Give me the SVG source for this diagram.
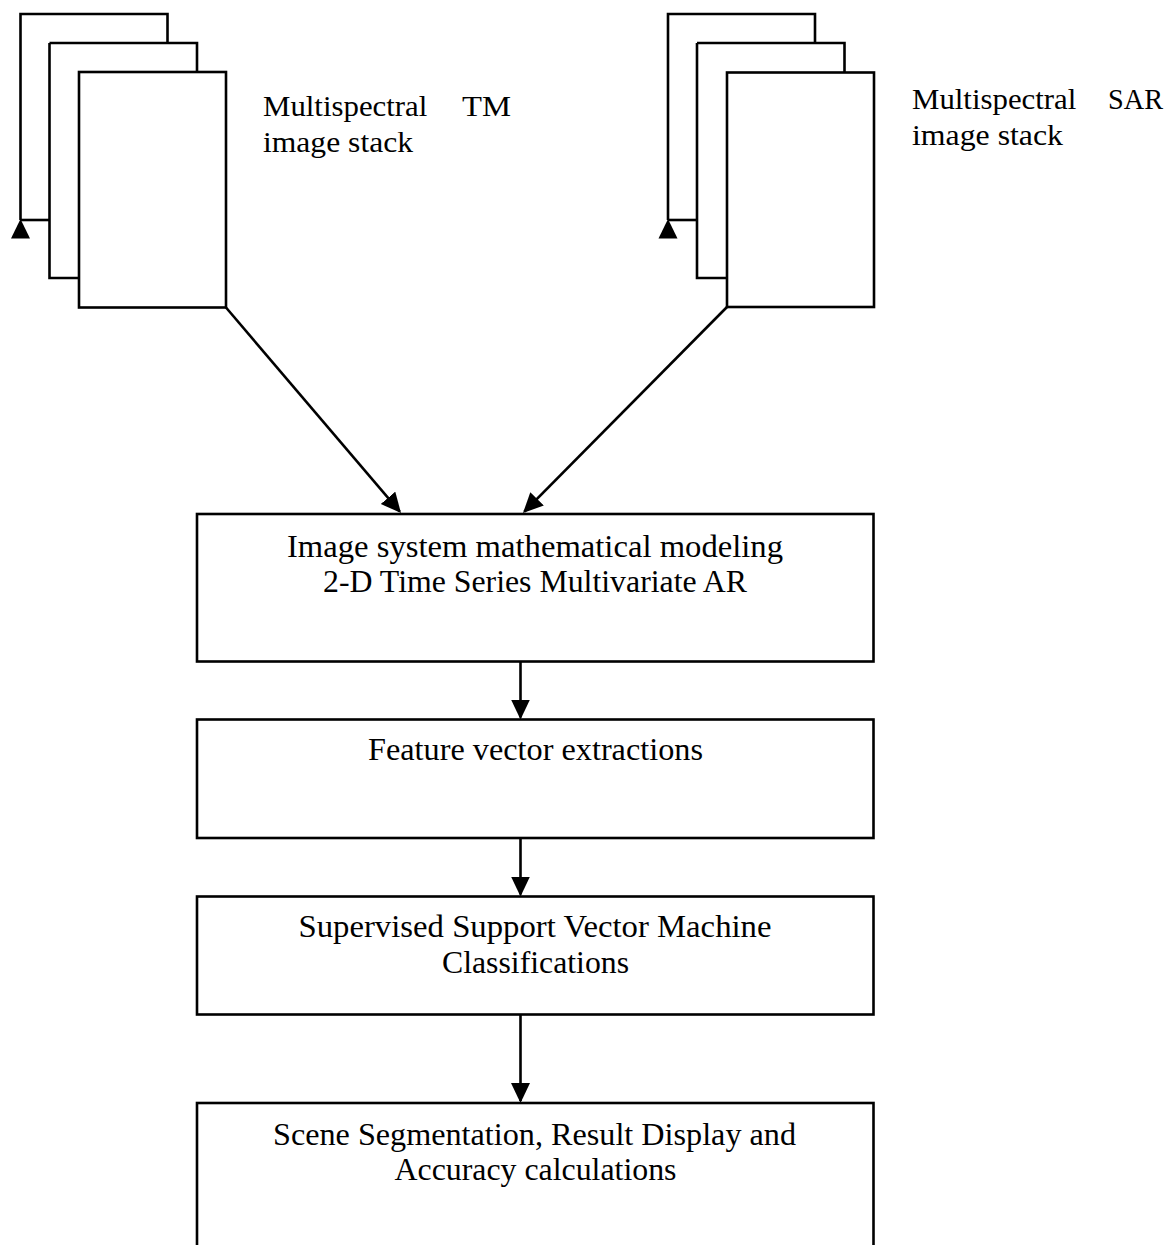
<svg xmlns="http://www.w3.org/2000/svg" width="1169" height="1245" viewBox="0 0 1169 1245">
<style>
.ln{fill:none;stroke:#000;stroke-width:2.6;stroke-linejoin:miter}
.bx{fill:#fff;stroke:#000;stroke-width:2.6}
.pg{fill:#fff;stroke:#000;stroke-width:2.6}
.tri{fill:#000;stroke:none}
.lbl{font-family:"Liberation Serif","Times New Roman",serif;font-size:29px;fill:#000}
.bt{font-family:"Liberation Serif","Times New Roman",serif;font-size:32px;fill:#000;text-anchor:middle}
</style>
<defs>
<marker id="arr" markerUnits="userSpaceOnUse" markerWidth="20" markerHeight="20" refX="18" refY="9.5" orient="auto">
<path d="M0,0 L20,9.5 L0,19 z" fill="#000"/>
</marker>
</defs>
<rect width="1169" height="1245" fill="#fff"/>

<g id="tm-stack">
<path class="ln" d="M20.5,220 V14 H167.5 V43"/>
<path class="ln" d="M20.5,220 H49.5"/>
<polygon class="tri" points="20.5,219 11,238.5 30,238.5"/>
<path class="ln" d="M49.5,43 H197 V72"/>
<path class="ln" d="M49.5,43 V278 H79"/>
<rect class="pg" x="79" y="72" width="147" height="235.5"/>
<text class="lbl" y="115.5"><tspan x="263" textLength="172" lengthAdjust="spacingAndGlyphs">Multispectral </tspan><tspan x="462" textLength="49" lengthAdjust="spacingAndGlyphs">TM</tspan></text>
<text class="lbl" x="263" y="151.5" textLength="150" lengthAdjust="spacingAndGlyphs">image stack</text>
</g>

<g id="sar-stack">
<path class="ln" d="M668,220 V14 H815 V43"/>
<path class="ln" d="M668,220 H697"/>
<polygon class="tri" points="668,219 658.5,238.5 677.5,238.5"/>
<path class="ln" d="M697,43 H844.5 V72.5"/>
<path class="ln" d="M697,43 V278 H727"/>
<rect class="pg" x="727" y="72.5" width="147" height="234.5"/>
<text class="lbl" y="108.5"><tspan x="912" textLength="172" lengthAdjust="spacingAndGlyphs">Multispectral </tspan><tspan x="1108" textLength="55" lengthAdjust="spacingAndGlyphs">SAR</tspan></text>
<text class="lbl" x="912" y="144.5" textLength="151" lengthAdjust="spacingAndGlyphs">image stack</text>
</g>

<g id="connectors">
<path class="ln" d="M226,307.5 L399.7,511.5" marker-end="url(#arr)"/>
<path class="ln" d="M727,307 L524.4,511.6" marker-end="url(#arr)"/>
<path class="ln" d="M520.5,661.5 V717.5" marker-end="url(#arr)"/>
<path class="ln" d="M520.5,838 V894.5" marker-end="url(#arr)"/>
<path class="ln" d="M520.5,1014.5 V1101" marker-end="url(#arr)"/>
</g>

<g id="modeling">
<rect class="bx" x="197" y="514" width="676.5" height="147.5"/>
<text class="bt" x="535" y="557" textLength="496" lengthAdjust="spacingAndGlyphs">Image system mathematical modeling</text>
<text class="bt" x="535" y="592" textLength="424" lengthAdjust="spacingAndGlyphs">2-D Time Series Multivariate AR</text>
</g>

<g id="features">
<rect class="bx" x="197" y="719.5" width="676.5" height="118.5"/>
<text class="bt" x="535.5" y="760" textLength="335" lengthAdjust="spacingAndGlyphs">Feature vector extractions</text>
</g>

<g id="svm">
<rect class="bx" x="197" y="896.5" width="676.5" height="118"/>
<text class="bt" x="535" y="937" textLength="473" lengthAdjust="spacingAndGlyphs">Supervised Support Vector Machine</text>
<text class="bt" x="535.5" y="972.5" textLength="187" lengthAdjust="spacingAndGlyphs">Classifications</text>
</g>

<g id="segmentation">
<rect class="bx" x="197" y="1103" width="676.5" height="170"/>
<text class="bt" x="534.5" y="1145" textLength="523" lengthAdjust="spacingAndGlyphs">Scene Segmentation, Result Display and</text>
<text class="bt" x="535.5" y="1180" textLength="282" lengthAdjust="spacingAndGlyphs">Accuracy calculations</text>
</g>
</svg>
